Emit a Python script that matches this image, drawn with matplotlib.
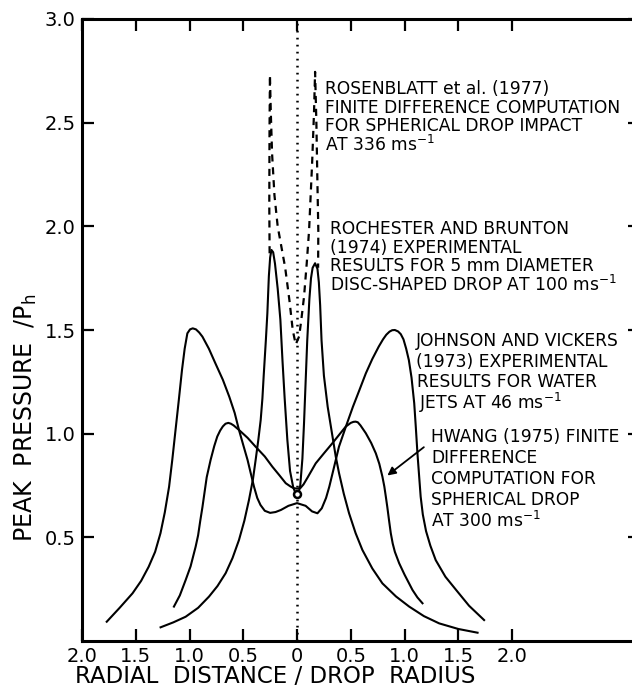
import matplotlib
matplotlib.use("Agg")
import matplotlib.pyplot as plt

plt.rcParams['font.family'] = ['DejaVu Sans']
plt.rcParams['mathtext.fontset'] = 'dejavusans'

# Johnson and Vickers (1973) - water jets
jv_x = [-1.77, -1.65, -1.53, -1.45, -1.38, -1.32, -1.27, -1.23, -1.19, -1.16, -1.13,
        -1.10, -1.07, -1.045, -1.02, -0.995, -0.97, -0.94, -0.91, -0.88, -0.82,
        -0.76, -0.69, -0.63, -0.58, -0.54, -0.50, -0.46, -0.43, -0.40, -0.37, -0.34,
        -0.30, -0.25, -0.20, -0.15, -0.08, 0.0, 0.08, 0.14, 0.19, 0.23, 0.27, 0.30,
        0.345, 0.39, 0.455, 0.52, 0.58, 0.64, 0.70, 0.76, 0.80, 0.83, 0.86, 0.885,
        0.91, 0.94, 0.965, 0.99, 1.015, 1.04, 1.065, 1.09, 1.105, 1.12, 1.135, 1.15,
        1.17, 1.20, 1.24, 1.29, 1.38, 1.48, 1.60, 1.74]
jv_y = [0.093, 0.16, 0.23, 0.29, 0.358, 0.43, 0.52, 0.62, 0.744, 0.875, 1.018,
        1.16, 1.307, 1.41, 1.484, 1.503, 1.508, 1.503, 1.488, 1.468, 1.41,
        1.34, 1.26, 1.178, 1.10, 1.018, 0.945, 0.873, 0.808, 0.744, 0.69, 0.656,
        0.628, 0.618, 0.622, 0.632, 0.652, 0.665, 0.652, 0.625, 0.616, 0.64, 0.69, 0.744,
        0.84, 0.937, 1.035, 1.13, 1.21, 1.291, 1.36, 1.42, 1.455, 1.477, 1.492, 1.499,
        1.50, 1.493, 1.48, 1.455, 1.41, 1.355, 1.27, 1.147, 1.03, 0.905, 0.80, 0.696,
        0.61, 0.53, 0.46, 0.39, 0.31, 0.246, 0.17, 0.101]

# Hwang (1975) - finite difference, spherical drop
hw_x = [-1.145, -1.09, -1.036, -0.99, -0.943, -0.92, -0.90, -0.88, -0.866, -0.84,
        -0.804, -0.77, -0.742, -0.715, -0.69, -0.665, -0.639, -0.615, -0.59, -0.54,
        -0.46, -0.385, -0.30, -0.23, -0.165, -0.105, -0.06, -0.03, 0.0, 0.03, 0.06,
        0.10, 0.174, 0.25, 0.329, 0.40, 0.453, 0.50, 0.525, 0.545, 0.565, 0.59, 0.64,
        0.69, 0.733, 0.765, 0.794, 0.812, 0.826, 0.84, 0.855, 0.872, 0.89, 0.91, 0.95,
        1.0, 1.074, 1.12, 1.167]
hw_y = [0.166, 0.22, 0.294, 0.36, 0.455, 0.51, 0.58, 0.645, 0.696, 0.79,
        0.873, 0.94, 0.986, 1.015, 1.035, 1.048, 1.052, 1.048, 1.04, 1.018,
        0.98, 0.937, 0.89, 0.841, 0.80, 0.761, 0.745, 0.737, 0.735, 0.737, 0.755,
        0.79, 0.857, 0.905, 0.954, 1.0, 1.034, 1.052, 1.057, 1.058, 1.055, 1.04, 1.002,
        0.955, 0.905, 0.855, 0.793, 0.745, 0.696, 0.645, 0.585, 0.52, 0.47, 0.43, 0.375,
        0.32, 0.246, 0.21, 0.182]

# Rochester and Brunton (1974) - disc-shaped drop
rb_x = [-1.269, -1.15, -1.036, -0.92, -0.819, -0.74, -0.664, -0.60, -0.54, -0.49,
        -0.447, -0.41, -0.385, -0.36, -0.338, -0.322, -0.31, -0.29, -0.276, -0.262,
        -0.25, -0.238, -0.222, -0.205, -0.18, -0.155, -0.135, -0.115, -0.09, -0.065,
        -0.035, -0.015, 0.0, 0.015, 0.03, 0.05, 0.065, 0.08, 0.095, 0.115, 0.13, 0.145,
        0.168, 0.19, 0.203, 0.215, 0.228, 0.25, 0.285, 0.33, 0.36, 0.391, 0.435, 0.484,
        0.545, 0.608, 0.70, 0.794, 0.92, 1.043, 1.18, 1.322, 1.50, 1.679]
rb_y = [0.066, 0.09, 0.117, 0.16, 0.214, 0.265, 0.327, 0.40, 0.487, 0.58,
        0.68, 0.78, 0.873, 0.97, 1.066, 1.17, 1.28, 1.45, 1.58, 1.76,
        1.85, 1.886, 1.875, 1.82, 1.70, 1.55, 1.35, 1.17, 0.97, 0.82,
        0.74, 0.715, 0.705, 0.715, 0.75, 0.88, 1.05, 1.25, 1.45, 1.65, 1.75, 1.80,
        1.822, 1.795, 1.73, 1.62, 1.45, 1.28, 1.13, 0.986, 0.89, 0.809, 0.71, 0.616,
        0.52, 0.439, 0.35, 0.278, 0.215, 0.166, 0.12, 0.085, 0.058, 0.04]

# Rosenblatt et al. (1977) - finite difference, spherical drop impact
ro_x = [-0.255, -0.258, -0.256, -0.252, -0.244, -0.232, -0.21, -0.18, -0.145, -0.11,
        -0.07, -0.04, -0.012, 0.02, 0.04, 0.065, 0.09, 0.112, 0.14, 0.158, 0.168,
        0.18, 0.19, 0.198, 0.196]
ro_y = [1.87, 2.1, 2.45, 2.73, 2.55, 2.35, 2.15, 2.0, 1.9, 1.8,
        1.64, 1.50, 1.43, 1.47, 1.55, 1.66, 1.82, 1.98, 2.3, 2.55, 2.745,
        2.5, 2.2, 1.98, 1.80]

# centre point where the curves meet
centre_x = [0.0]
centre_y = [0.71]

x_ticks = [-2.0, -1.5, -1.0, -0.5, 0.0, 0.5, 1.0, 1.5, 2.0]
x_labels = ['2.0', '1.5', '1.0', '0.5', '0', '0.5', '1.0', '1.5', '2.0']
y_ticks = [0.5, 1.0, 1.5, 2.0, 2.5, 3.0]
y_labels = ['0.5', '1.0', '1.5', '2.0', '2.5', '3.0']

ros_lines = ['ROSENBLATT et al. (1977)', 'FINITE DIFFERENCE COMPUTATION',
             'FOR SPHERICAL DROP IMPACT', 'AT 336 ms$^{-1}$']
roc_lines = ['ROCHESTER AND BRUNTON', '(1974) EXPERIMENTAL',
             'RESULTS FOR 5 mm DIAMETER', 'DISC-SHAPED DROP AT 100 ms$^{-1}$']
joh_lines = ['JOHNSON AND VICKERS', '(1973) EXPERIMENTAL',
             'RESULTS FOR WATER', 'JETS AT 46 ms$^{-1}$']
hwa_lines = ['HWANG (1975) FINITE', 'DIFFERENCE', 'COMPUTATION FOR',
             'SPHERICAL DROP', 'AT 300 ms$^{-1}$']

W, H = 632, 691
fig = plt.figure(figsize=(W / 100, H / 100), dpi=100)
ax = fig.add_axes([82 / W, 50 / H, 558 / W, 622 / H])
ax.set_xlim(-2.0, 3.19)
ax.set_ylim(0, 3.0)

lw = 1.5
ax.axvline(centre_x[0], color='black', lw=1.8, dashes=[0.7, 2.1], zorder=1)
ax.plot(jv_x, jv_y, color='black', lw=lw)
ax.plot(hw_x, hw_y, color='black', lw=lw)
ax.plot(rb_x, rb_y, color='black', lw=lw)
ax.plot(ro_x, ro_y, color='black', lw=1.6, dashes=[3.2, 2.6])
ax.plot(centre_x, centre_y, 'o', ms=5, mfc='white', mec='black', mew=1.8)

for s in ax.spines.values():
    s.set_linewidth(2.2)
ax.set_xticks(x_ticks)
ax.set_xticklabels(x_labels)
ax.set_yticks(y_ticks)
ax.set_yticklabels(y_labels)
ax.tick_params(direction='in', length=8.5, width=1.6, top=True, right=True,
               labelsize=14, pad=4.5)

# annotation blocks
fs = 12.3
for i, t in enumerate(ros_lines):
    ax.text(0.26, 2.663 - i * 0.09, t, fontsize=fs, va='center', ha='left')
for i, t in enumerate(roc_lines):
    ax.text(0.307, 1.987 - i * 0.09, t, fontsize=fs, va='center', ha='left')
joh_x = [1.105, 1.105, 1.12, 1.136]
for i, t in enumerate(joh_lines):
    ax.text(joh_x[i], 1.449 - i * 0.101, t, fontsize=fs, va='center', ha='left')
for i, t in enumerate(hwa_lines):
    ax.text(1.245, 0.983 - i * 0.1015, t, fontsize=fs, va='center', ha='left')

ax.annotate('', xy=(0.82, 0.79), xytext=(1.20, 0.943),
            arrowprops=dict(arrowstyle='-|>', color='black', lw=1.3, mutation_scale=12))

fig.text(26 / W, 1 - 418 / H, 'PEAK  PRESSURE  /P$_\\mathrm{h}$', rotation=90,
         ha='center', va='center', fontsize=17)
fig.text(275 / W, 0.011, 'RADIAL  DISTANCE / DROP  RADIUS', ha='center',
         va='baseline', fontsize=16.5)

fig.savefig('out.png', dpi=100)
